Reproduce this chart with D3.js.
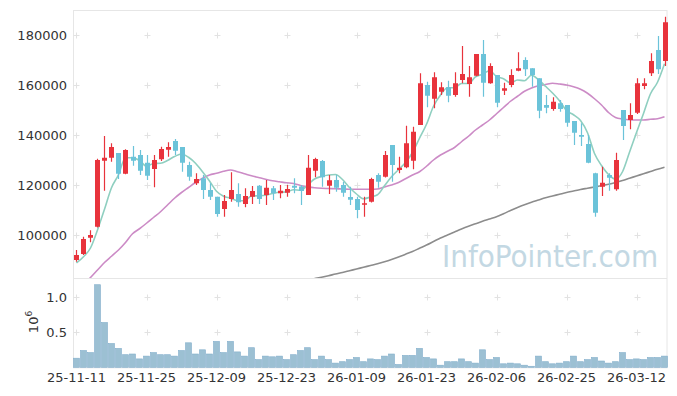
<!DOCTYPE html>
<html>
<head>
<meta charset="utf-8">
<script src="https://cdn.jsdelivr.net/npm/d3@7"></script>
<style>
    body { margin: 0; background: #fff; }
    text { font-family: "DejaVu Sans", sans-serif; }
</style>
</head>
<body>
<div id="chart"></div>
<script>

var dates = [
    "25-11-11", "25-11-12", "25-11-13", "25-11-14", "25-11-17", "25-11-18", "25-11-19", "25-11-20", "25-11-21", "25-11-24",
    "25-11-25", "25-11-26", "25-11-27", "25-11-28", "25-12-01", "25-12-02", "25-12-03", "25-12-04", "25-12-05", "25-12-08",
    "25-12-09", "25-12-10", "25-12-11", "25-12-12", "25-12-15", "25-12-16", "25-12-17", "25-12-18", "25-12-19", "25-12-22",
    "25-12-23", "25-12-24", "25-12-26", "25-12-29", "25-12-30", "26-01-02", "26-01-05", "26-01-06", "26-01-07", "26-01-08",
    "26-01-09", "26-01-12", "26-01-13", "26-01-14", "26-01-15", "26-01-16", "26-01-19", "26-01-20", "26-01-21", "26-01-22",
    "26-01-23", "26-01-26", "26-01-27", "26-01-28", "26-01-29", "26-01-30", "26-02-02", "26-02-03", "26-02-04", "26-02-05",
    "26-02-06", "26-02-09", "26-02-10", "26-02-11", "26-02-12", "26-02-13", "26-02-19", "26-02-20", "26-02-23", "26-02-24",
    "26-02-25", "26-02-26", "26-02-27", "26-03-03", "26-03-04", "26-03-05", "26-03-06", "26-03-09", "26-03-10", "26-03-11",
    "26-03-12", "26-03-13", "26-03-16", "26-03-17", "26-03-18"
];

var opens = [
    90000, 92400, 98900, 103300, 129700, 130900, 132800, 124500, 131300, 132000,
    128900, 126400, 130300, 134100, 137600, 135200, 128000, 120700, 122700, 118000,
    115300, 110400, 114400, 116400, 112400, 115300, 119700, 116000, 118700, 116700,
    116900, 119700, 119400, 116000, 125700, 129600, 119700, 122000, 120000, 115200,
    114400, 112500, 113300, 124000, 123300, 136000, 126000, 127100, 129700, 144000,
    160000, 154500, 157300, 159100, 156000, 162000, 160400, 163700, 172400, 160700,
    164000, 157700, 160000, 165700, 170000, 166700, 162700, 152000, 150400, 152700,
    152000, 145600, 140000, 136400, 124700, 119300, 124000, 118300, 150000, 146000,
    148900, 159600, 164700, 174000, 169600
];

var highs = [
    94000, 99300, 101900, 130500, 139600, 136700, 132800, 134300, 135600, 134000,
    132000, 132000, 135300, 137100, 138400, 135200, 129300, 124700, 124000, 120700,
    115300, 116000, 125100, 120700, 118700, 119600, 120000, 122000, 119600, 120000,
    120000, 122700, 120000, 132000, 130900, 130000, 124000, 124000, 121300, 119300,
    115300, 115300, 122900, 124700, 133600, 136000, 131300, 143700, 143300, 164700,
    161300, 165100, 161100, 161700, 165100, 175600, 167600, 172400, 178000, 168700,
    164000, 160900, 166300, 173100, 171100, 166700, 162700, 156000, 155100, 154000,
    152000, 145600, 144700, 140000, 124900, 127300, 124700, 132900, 150000, 152700,
    162700, 162700, 172700, 179600, 187300
];

var lows = [
    89300, 92000, 97100, 103000, 117700, 129300, 122400, 124300, 127700, 124000,
    122000, 119100, 129600, 131300, 132000, 125300, 121700, 120000, 114400, 114000,
    107300, 107300, 113300, 111300, 111100, 112400, 112400, 112000, 114000, 114700,
    115300, 116700, 112000, 116000, 123100, 119300, 116400, 117300, 115300, 112000,
    106700, 107300, 113000, 118900, 123000, 121300, 124700, 126700, 126300, 144000,
    151100, 150700, 156000, 153100, 155300, 160700, 155300, 163500, 155300, 160500,
    151100, 156000, 159100, 165500, 163600, 159300, 146700, 148700, 149700, 149300,
    143300, 136000, 135600, 128700, 107300, 115600, 117700, 117700, 138000, 142300,
    148400, 158300, 163600, 164400, 167600
];

var closes = [
    92000, 98400, 100000, 130000, 130900, 135200, 124500, 134000, 129700, 125700,
    123700, 130000, 134400, 135200, 133700, 128900, 123300, 122400, 118000, 115300,
    108400, 113600, 118000, 113100, 115600, 117600, 114400, 118900, 116700, 117700,
    118400, 118900, 117600, 126900, 130400, 123100, 121900, 118900, 116900, 114100,
    110000, 112700, 122400, 121300, 132000, 128000, 126900, 136700, 141300, 160700,
    155700, 163100, 159100, 155700, 160700, 164400, 163100, 172400, 160900, 167600,
    152900, 158700, 164000, 166700, 166300, 164000, 149700, 150900, 153300, 150400,
    144900, 140900, 139300, 128900, 108900, 120900, 122900, 130000, 143600, 148000,
    160700, 160700, 169600, 166300, 185100
];

// volume, millions of shares
var volumes = [
    0.13, 0.24, 0.21, 1.18, 0.64, 0.34, 0.27, 0.18, 0.19, 0.12,
    0.16, 0.21, 0.18, 0.18, 0.16, 0.24, 0.35, 0.19, 0.25, 0.19,
    0.37, 0.21, 0.37, 0.22, 0.16, 0.28, 0.11, 0.16, 0.15, 0.16,
    0.11, 0.18, 0.24, 0.28, 0.11, 0.16, 0.11, 0.06, 0.08, 0.11,
    0.14, 0.08, 0.12, 0.11, 0.16, 0.19, 0.04, 0.17, 0.17, 0.27,
    0.14, 0.12, 0.03, 0.08, 0.08, 0.12, 0.08, 0.06, 0.25, 0.11,
    0.14, 0.05, 0.06, 0.05, 0.03, 0.015, 0.16, 0.08, 0.05, 0.06,
    0.08, 0.16, 0.08, 0.11, 0.14, 0.09, 0.06, 0.08, 0.21, 0.11,
    0.12, 0.11, 0.14, 0.14, 0.16
];

var ma5 = [
    88800, 91300, 94800, 102000, 110300, 118900, 124100, 130900, 130900, 129800,
    127500, 128600, 128700, 129800, 131400, 132400, 131100, 128700, 125300, 121600,
    117500, 115500, 114700, 113700, 113700, 115600, 115700, 115900, 116600, 117100,
    117200, 118100, 117900, 119900, 122400, 123400, 124000, 124200, 122200, 119000,
    116400, 114500, 115200, 116100, 119700, 123300, 126100, 129000, 133000, 138700,
    144300, 151500, 156000, 158900, 158900, 160600, 160600, 163300, 164300, 165700,
    163400, 162500, 160800, 162000, 161700, 163900, 162100, 159500, 156800, 153700,
    149800, 148100, 145800, 140900, 132600, 127800, 124200, 122300, 125300, 133100,
    141000, 148600, 156500, 161100, 168500
];

var ma20 = [
    78000, 80500, 83000, 86000, 89000, 91500, 94000, 97000, 100500, 102500,
    104700, 107000, 109300, 112000, 114700, 117000, 119000, 121000, 122700, 124000,
    124700, 125500, 126000, 125300, 124500, 123700, 123000, 122300, 121700, 121300,
    120900, 120600, 119800, 119300, 118900, 118700, 118600, 118500, 118400, 118300,
    118300, 118300, 118300, 118400, 119200, 120000, 121000, 122500, 124000, 125300,
    127500, 130000, 132000, 133500, 135000, 137300, 139500, 142000, 144000, 146000,
    148500, 151000, 153500, 155500, 157500, 158800, 159700, 160200, 160700, 160400,
    160000, 159300, 158300, 156700, 154500, 152000, 149000, 147000, 146400, 146100,
    146000, 146000, 146300, 146500, 147300
];

var ma60 = [
    null, null, null, null, null, null, null, null, null, null,
    null, null, null, null, null, null, null, null, null, null,
    null, null, null, null, null, null, null, null, null, null,
    null, null, null, null, 82600, 83100, 83700, 84400, 85000, 85700,
    86400, 87100, 87800, 88500, 89300, 90200, 91200, 92300, 93400, 94700,
    96000, 97400, 98800, 100000, 101200, 102400, 103500, 104500, 105500, 106400,
    107300, 108500, 109800, 111000, 112100, 113100, 114000, 114900, 115600, 116300,
    117000, 117600, 118200, 118700, 119200, 119700, 120300, 121000, 121800, 122700,
    123600, 124500, 125400, 126300, 127100
];

var priceTicks = [100000, 120000, 140000, 160000, 180000];
var volumeTicks = [0.5, 1.0];
var labelEvery = 10;

var width = 677, height = 396;
var plotLeft = 73, plotRight = 668, plotTop = 10, plotMid = 278, plotBottom = 367.3;

var svg = d3.select("#chart").append("svg").attr("width", width).attr("height", height);

var x = d3.scaleBand().domain(dates).range([plotLeft, plotRight]).paddingInner(0.2).paddingOuter(0.1);
var y = d3.scaleLinear().domain([82800, 190000]).range([plotMid, plotTop]);
var yv = d3.scaleLinear().domain([0, 1.276]).range([plotBottom, plotMid]);

function cx(d) {
    return x(d) + x.bandwidth() / 2;
}

svg.append("defs").append("clipPath").attr("id", "clipMain")
    .append("rect").attr("x", plotLeft).attr("y", plotTop).attr("width", plotRight - plotLeft).attr("height", plotMid - plotTop);

// frame
svg.append("rect").attr("x", plotLeft + 0.5).attr("y", plotTop + 0.5)
    .attr("width", plotRight - plotLeft - 1.5).attr("height", plotBottom - plotTop)
    .attr("fill", "none").attr("stroke", "#e6e6e6");
svg.append("line").attr("x1", plotLeft).attr("x2", plotRight - 1).attr("y1", plotMid + 0.5).attr("y2", plotMid + 0.5)
    .attr("stroke", "#e6e6e6");

// grid crosses
var tickDates = dates.filter(function (d, i) { return i % labelEvery == 0; });
var crossRows = priceTicks.map(function (v) { return y(v); })
    .concat(volumeTicks.map(function (v) { return yv(v); }));
var grid = svg.append("g").attr("stroke", "#e2e2e2").attr("stroke-width", 1);
tickDates.forEach(function (d) {
    crossRows.forEach(function (yy) {
        var xx = Math.round(cx(d)) + 0.5, ry = Math.round(yy) + 0.5;
        grid.append("line").attr("x1", xx - 3).attr("x2", xx + 3).attr("y1", ry).attr("y2", ry);
        grid.append("line").attr("x1", xx).attr("x2", xx).attr("y1", ry - 3).attr("y2", ry + 3);
    });
});

// watermark
svg.append("text").attr("x", 442).attr("y", 266.5)
    .style("font-family", "'DejaVu Sans Condensed', 'DejaVu Sans', sans-serif")
    .style("font-stretch", "condensed")
    .attr("font-size", 31).attr("fill", "#c3d8e3")
    .text("InfoPointer.com");

// axis labels
var labels = svg.append("g").attr("font-size", 13).attr("fill", "#333");
priceTicks.forEach(function (v) {
    labels.append("text").attr("x", 67).attr("y", y(v) + 4.5).attr("text-anchor", "end").text(v);
});
volumeTicks.forEach(function (v) {
    labels.append("text").attr("x", 67).attr("y", yv(v) + 4.5).attr("text-anchor", "end").text(d3.format(".1f")(v));
});
tickDates.forEach(function (d) {
    labels.append("text").attr("x", cx(d)).attr("y", 382).attr("text-anchor", "middle").text(d);
});
var unit = labels.append("text").attr("transform", "translate(38,322) rotate(-90)").attr("text-anchor", "middle");
unit.append("tspan").text("10");
unit.append("tspan").attr("dy", -6).attr("font-size", 9).text("6");

// volume bars
svg.append("g").selectAll("rect").data(dates).enter().append("rect")
    .attr("x", function (d) { return cx(d) - 3; })
    .attr("width", 6)
    .attr("y", function (d, i) { return yv(volumes[i]); })
    .attr("height", function (d, i) { return plotBottom - yv(volumes[i]); })
    .attr("fill", "#9cc0d3").attr("stroke", "#82aecb").attr("stroke-width", 0.6);

// moving averages
function maLine(values, color, w) {
    var line = d3.line()
        .defined(function (d, i) { return values[i] != null; })
        .x(function (d) { return cx(d); })
        .y(function (d, i) { return y(values[i]); })
        .curve(d3.curveMonotoneX);
    svg.append("path").datum(dates).attr("d", line)
        .attr("clip-path", "url(#clipMain)")
        .attr("fill", "none").attr("stroke", color).attr("stroke-width", w);
}
maLine(ma60, "#8c8c8c", 1.6);
maLine(ma20, "#cc8bc6", 1.6);
maLine(ma5, "#8fcfc0", 1.6);

// candles
var up = "#e8333c", down = "#6bc3d9";
var candles = svg.append("g").attr("clip-path", "url(#clipMain)");
dates.forEach(function (d, i) {
    var color = closes[i] >= opens[i] ? up : down;
    var xx = Math.round(cx(d));
    candles.append("line").attr("x1", xx + 0.5).attr("x2", xx + 0.5)
        .attr("y1", y(highs[i])).attr("y2", y(lows[i]))
        .attr("stroke", color).attr("stroke-width", 1.2);
    var yt = y(Math.max(opens[i], closes[i])), yb = y(Math.min(opens[i], closes[i]));
    candles.append("rect").attr("x", xx - 2).attr("width", 5)
        .attr("y", yt).attr("height", Math.max(yb - yt, 1.5))
        .attr("fill", color);
});

</script>
</body>
</html>
